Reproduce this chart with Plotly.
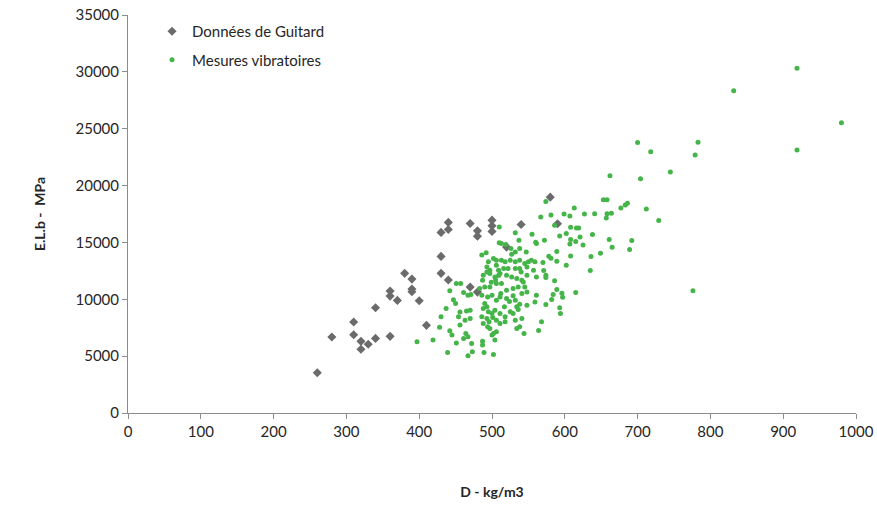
import plotly.graph_objects as go

# Données de Guitard (D kg/m3, E.L.b MPa)
guitard_d = [260, 280, 310, 310, 320, 320, 330, 340, 340, 360, 360, 360, 370, 380, 390, 390, 390,
             400, 410, 430, 430, 430, 440, 440, 440, 470, 470, 480, 480, 480, 500, 500, 500, 520,
             540, 580, 590]
guitard_e = [3540, 6680, 8000, 6880, 6300, 5600, 6040, 6560, 9250, 6740, 10720, 10280, 9900, 12280,
             11775, 10900, 10660, 9870, 7710, 15880, 13770, 12280, 16760, 16140, 11690, 16670, 11070,
             16020, 15550, 10630, 16960, 16460, 15970, 14590, 16580, 18980, 16640]

# Mesures vibratoires (D kg/m3, E.L.b MPa)
vib_d = [
    919, 832, 980, 919, 783, 779, 718, 745, 729, 776,
    700, 704, 677, 683, 686, 712, 692, 689,
    662, 653, 658, 574, 613, 567, 581, 599, 607, 627, 641, 658, 664, 657,
    586, 608, 616, 619, 602, 593, 572, 621, 638, 608, 607, 615, 625, 661, 665,
    589, 578, 581, 570, 589, 608, 636, 649, 602, 635, 571, 574, 574, 586, 589,
    596, 597, 584, 582, 615, 574, 593, 594,
    451, 457, 442, 461, 467, 471, 447, 450, 437, 465, 470, 456, 454, 463, 470,
    430, 456, 428, 442, 445, 464, 467, 461, 472, 451, 419, 397, 439, 467, 473,
    487, 487, 489, 502, 504,
    510, 532, 537, 555, 560, 561, 510, 513, 519, 526, 532, 527, 538, 547, 492,
    502, 495, 506, 513, 518, 525, 532, 538, 545, 550, 554, 559,
    506, 493, 497, 509, 516, 522, 532, 538, 548, 557,
    488, 497, 504, 511, 520, 527, 534, 541, 548, 543, 561,
    483, 490, 497, 506, 513, 520, 529, 536, 545, 541, 548, 561,
    486, 494, 500, 506, 511, 520, 532, 538, 548, 534,
    488, 493, 495, 500, 504, 511, 518, 525, 529, 541, 559,
    486, 493, 496, 501, 506, 511, 518, 532, 538, 534,
    497, 502, 500, 506, 544,
    487, 490, 488, 494, 568, 564, 536,
    486, 493, 505, 512, 524, 517, 529, 499, 509, 540,
]
vib_e = [
    30320, 28330, 25520, 23120, 23820, 22680, 22980, 21190, 16920, 10740,
    23790, 20600, 18030, 18300, 18440, 17940, 15160, 14370,
    20870, 18760, 18760, 18590, 18030, 17240, 17410, 17500, 17320, 17500, 17530, 17530, 17560, 17150,
    16500, 16330, 16270, 16270, 15780, 15570, 15190, 15480, 15690, 15250, 14870, 15080, 14780, 15250, 14570,
    14200, 13780, 13610, 13230, 13350, 13810, 13760, 14050, 12990, 12530, 12530, 12120, 11910, 11620, 10860,
    10540, 10180, 10420, 9980, 10600, 9540, 9250, 8750,
    11390, 11390, 10740, 10600, 10360, 10420, 9950, 9630, 9190, 8980, 9040, 8890, 8460, 8165, 8310,
    8460, 7730, 7550, 7230, 6850, 7000, 6700, 6560, 6120, 6150, 6410, 6260, 5330, 5030, 5380,
    6320, 5970, 5330, 5150, 6410,
    16360, 15860, 15190, 15715, 15010, 14900, 14980, 14900, 14810, 14460, 14160, 13960, 14460, 14160, 14100,
    13580, 13290, 13430, 13430, 13290, 13430, 13290, 13430, 13140, 13290, 13430, 13290,
    12990, 12850, 12550, 12550, 12700, 12700, 12700, 12700, 12850, 12550,
    12120, 12260, 11970, 12260, 12120, 11970, 11820, 11680, 12120, 11530, 11970,
    10940, 11090, 11090, 11380, 11380, 10800, 10940, 11090, 11090, 10500, 10650, 10360,
    10360, 10210, 10360, 9920, 10210, 10070, 9920, 9570, 9480, 9340,
    9190, 9340, 8900, 8750, 9040, 8750, 8460, 8900, 8750, 8310, 9770,
    8460, 8310, 8020, 8400, 8160, 7870, 8020, 8160, 7580, 7430,
    7430, 6990, 6850, 7140, 6990,
    11680, 9630, 7870, 7580, 8020, 7260, 9100,
    13900, 12400, 11700, 10500, 9800, 9350, 10300, 11500, 12100, 12400,
]

GRAY = "#6b6b6b"
GREEN = "#45b449"
AXIS = "#8c8c8c"
FONT = "Lato, 'Open Sans', sans-serif"

fig = go.Figure()
fig.add_trace(go.Scatter(
    x=guitard_d, y=guitard_e, mode="markers", name="Données de Guitard",
    legendgroup="g",
    marker=dict(symbol="diamond", size=7, color=GRAY),
))
fig.add_trace(go.Scatter(
    x=vib_d, y=vib_e, mode="markers", name="Mesures vibratoires",
    legendgroup="v",
    marker=dict(symbol="circle", size=5, color=GREEN),
))

fig.update_layout(
    width=877, height=508,
    margin=dict(l=128, r=21, t=15, b=95),
    paper_bgcolor="white", plot_bgcolor="white",
    font=dict(family=FONT, size=15, color="#262626"),
    showlegend=True,
    legend=dict(x=0.033, y=1.0, xanchor="left", yanchor="top",
                bgcolor="rgba(0,0,0,0)", tracegroupgap=6,
                font=dict(size=15, color="#262626")),
    xaxis=dict(range=[0, 1000], dtick=100, tick0=0, showgrid=False, zeroline=False,
               automargin=False, ticklabeloverflow="allow",
               showline=True, linecolor=AXIS, linewidth=1,
               ticks="outside", ticklen=5, tickcolor=AXIS,
               tickfont=dict(size=15, color="#262626"),
               title=dict(text="<b>D - kg/m3</b>", font=dict(size=14, color="#262626"), standoff=48)),
    yaxis=dict(range=[0, 35000], dtick=5000, tick0=0, showgrid=False, zeroline=False,
               automargin=False, tickformat="d", ticklabeloverflow="allow",
               showline=True, linecolor=AXIS, linewidth=1,
               ticks="outside", ticklen=5, tickcolor=AXIS,
               tickfont=dict(size=15, color="#262626"),
               title=dict(text="<b>E.L.b -\u00a0 MPa</b>", font=dict(size=14, color="#262626"), standoff=26)),
)

fig.write_html("out.html", config={"displayModeBar": False},
               post_script="document.body.style.margin='0';")
